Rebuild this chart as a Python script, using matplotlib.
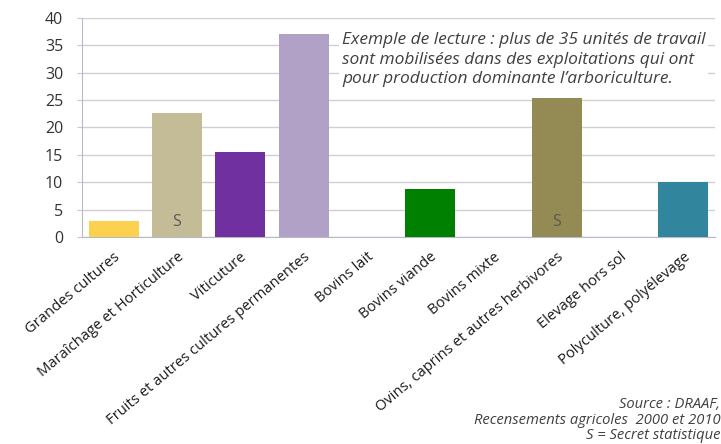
import matplotlib
matplotlib.use("Agg")
import matplotlib.pyplot as plt

# Unités de travail par exploitation selon l'orientation
categories = ["Grandes cultures", "Maraîchage et Horticulture", "Viticuture",
              "Fruits et autres cultures permanentes", "Bovins lait", "Bovins viande",
              "Bovins mixte", "Ovins, caprins et autres herbivores", "Elevage hors sol",
              "Polyculture, polyélevage"]
values = [3.0, 22.7, 15.5, 37.0, 0, 8.8, 0, 25.4, 0, 10.0]
secret = [False, True, False, False, False, False, False, True, False, False]
colors = ["#FCD14F", "#C4BC96", "#7030A0", "#B2A1C7", "#FFFFFF", "#008000",
          "#FFFFFF", "#948A54", "#FFFFFF", "#31859C"]
yticks = [0, 5, 10, 15, 20, 25, 30, 35, 40]

note = ("Exemple de lecture : plus de 35 unités de travail\n"
        "sont mobilisées dans des exploitations qui ont\n"
        "pour production dominante l’arboriculture.")
source = "Source : DRAAF,\nRecensements agricoles  2000 et 2010\nS = Secret statistique"

plt.rcParams['font.family'] = ['Open Sans', 'DejaVu Sans']

fig = plt.figure(figsize=(7.21, 4.44), dpi=100)
ax = fig.add_axes([0.1137, 0.4662, 0.8780, 0.4933])

x = list(range(len(categories)))
ax.bar(x, values, width=0.79, color=colors, zorder=3)
ax.set_xlim(-0.5, len(categories) - 0.5)
ax.set_ylim(0, 40)
ax.set_yticks(yticks)
ax.yaxis.grid(True, color="#D0D0D0", linewidth=1, zorder=0)
ax.tick_params(axis="y", length=3.6, color="#C8C8C8", labelsize=11.5,
               labelcolor="#333333", pad=10)
ax.tick_params(axis="x", length=0, labelsize=10.6, labelcolor="#1a1a1a", pad=9)
for s in ["top", "right"]:
    ax.spines[s].set_visible(False)
ax.spines["left"].set_color("#B8B8C8")
ax.spines["bottom"].set_color("#B8B8C8")

ax.set_xticks(x)
ax.set_xticklabels(categories, rotation=40, ha="right", rotation_mode="anchor")

for i, s in enumerate(secret):
    if s:
        ax.text(i, 2.7, "S", ha="center", va="center", fontsize=11.5,
                color="#595959", zorder=4)

# note box with white background covering the grid
ax.text(3.607, 37.4, note, ha="left", va="top", fontsize=12.5, style="italic",
        color="#404040", linespacing=1.3, zorder=5,
        bbox=dict(facecolor="white", edgecolor="none", pad=2))

fig.text(0.999, 0.002, source, ha="right", va="bottom", fontsize=10.6,
         style="italic", color="#404040", linespacing=1.05, multialignment="right")

fig.savefig("out.png", dpi=100)
